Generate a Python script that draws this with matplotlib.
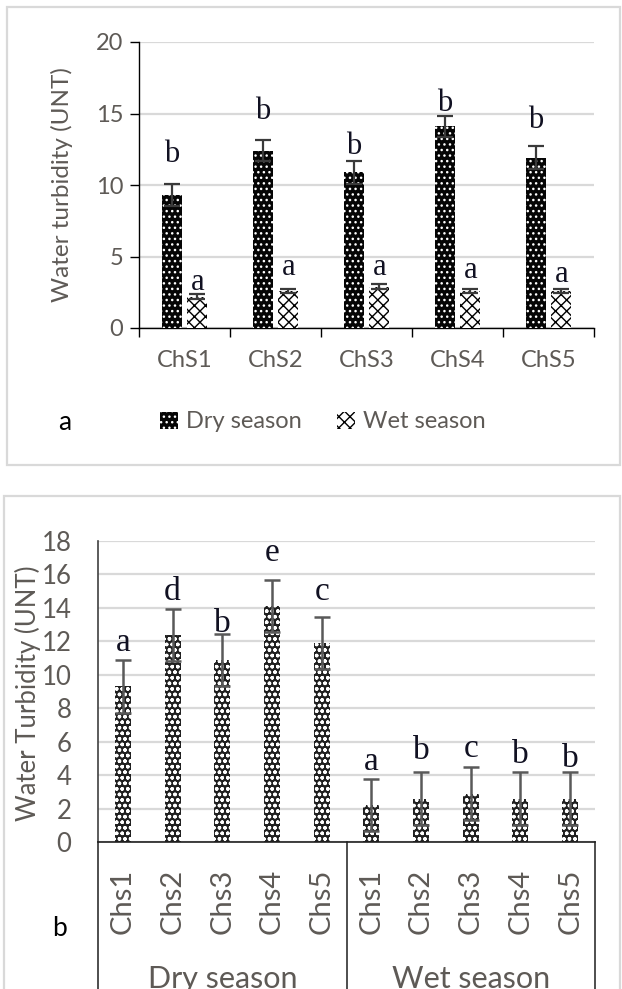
import matplotlib
matplotlib.use("Agg")
import matplotlib.pyplot as plt
from matplotlib.patches import Rectangle, Patch
from matplotlib.lines import Line2D
import numpy as np

# ---- data ----
sites_a = ["ChS1", "ChS2", "ChS3", "ChS4", "ChS5"]
sites_b = ["Chs1", "Chs2", "Chs3", "Chs4", "Chs5"]
seasons = ["Dry season", "Wet season"]

dry_mean = [9.3, 12.4, 10.9, 14.1, 11.9]
wet_mean = [2.2, 2.6, 2.9, 2.6, 2.6]

dry_err_a = [0.8, 0.75, 0.8, 0.75, 0.8]
wet_err_a = [0.15, 0.15, 0.15, 0.15, 0.15]
dry_err_b = [1.56, 1.56, 1.56, 1.56, 1.56]
wet_err_b = [1.56, 1.56, 1.56, 1.56, 1.56]

dry_letters_a = ["b", "b", "b", "b", "b"]
wet_letters_a = ["a", "a", "a", "a", "a"]
dry_letters_b = ["a", "d", "b", "e", "c"]
wet_letters_b = ["a", "b", "c", "b", "b"]

# gap between error cap and letter baseline (data units)
dry_gap_a = [1.5, 1.45, 0.5, 0.35, 1.3]
wet_gap_a = [0.3, 0.95, 0.65, 0.75, 0.45]
dry_gap_b = [0.57, 0.49, 0.1, 1.12, 0.99]
wet_gap_b = [0.55, 0.79, 0.64, 0.54, 0.34]

# ---- style ----
W, H = 622, 989
SANS = ["Lato", "DejaVu Sans"]
SERIF = ["Liberation Serif", "DejaVu Serif"]
TXT = "#5e5a56"
GRID = "#d9d9d9"
plt.rcParams["font.family"] = SANS
plt.rcParams["hatch.linewidth"] = 1.0

DRY_STYLE = dict(facecolor="#050505", edgecolor="white", hatch="...", linewidth=0)
WET_STYLE = dict(facecolor="white", edgecolor="black", hatch="xxx", linewidth=0)
B_STYLE = dict(facecolor="#202020", edgecolor="white", hatch="ooo", linewidth=0)

fig = plt.figure(figsize=(W / 100, H / 100), dpi=100)


def fx(px):
    return px / W


def fy(py):
    return 1 - py / H


# panel frames
fig.add_artist(Rectangle((fx(7), fy(465)), fx(613), (465 - 7) / H,
                         transform=fig.transFigure, fill=False,
                         edgecolor=GRID, lw=1.6))
fig.add_artist(Rectangle((fx(4), fy(1000)), fx(616), (1000 - 496) / H,
                         transform=fig.transFigure, fill=False,
                         edgecolor=GRID, lw=1.6, clip_on=False))

# ================= panel a =================
axa = fig.add_axes([fx(139), fy(328), (594 - 139) / W, (328 - 42) / H])
x = np.arange(len(sites_a))
bw = 0.225
off = 0.14
axa.bar(x - off, dry_mean, bw, zorder=3, **DRY_STYLE)
axa.bar(x + off, wet_mean, bw, zorder=3, **WET_STYLE)
axa.errorbar(x - off, dry_mean, yerr=dry_err_a, fmt="none", ecolor="#3a3a3a",
             elinewidth=1.6, capsize=5.6, capthick=1.6, zorder=4)
axa.errorbar(x + off, wet_mean, yerr=wet_err_a, fmt="none", ecolor="#3a3a3a",
             elinewidth=1.6, capsize=5.6, capthick=1.6, zorder=4)
for i in range(len(sites_a)):
    axa.text(x[i] - off, dry_mean[i] + dry_err_a[i] + dry_gap_a[i],
             dry_letters_a[i], ha="center", va="baseline", fontsize=22,
             family=SERIF, color="#111122", zorder=5)
    axa.text(x[i] + off, wet_mean[i] + wet_err_a[i] + wet_gap_a[i],
             wet_letters_a[i], ha="center", va="baseline", fontsize=22,
             family=SERIF, color="#111122", zorder=5)

axa.set_xlim(-0.5, len(sites_a) - 0.5)
axa.set_ylim(0, 20)
axa.set_yticks([0, 5, 10, 15, 20])
axa.yaxis.grid(True, color=GRID, lw=1.6, zorder=0)
axa.set_axisbelow(True)
axa.set_xticks(x)
axa.set_xticklabels(sites_a)
axa.set_xticks(np.arange(len(sites_a) + 1) - 0.5, minor=True)
axa.tick_params(axis="x", which="major", length=0, pad=16, labelsize=17,
                labelcolor=TXT)
axa.tick_params(axis="x", which="minor", length=6.5, width=1.0, color="black")
axa.tick_params(axis="y", length=6.5, width=1.0, pad=5, labelsize=17,
                labelcolor=TXT, color="black")
for s in ["top", "right"]:
    axa.spines[s].set_visible(False)
for s in ["left", "bottom"]:
    axa.spines[s].set_color("black")
    axa.spines[s].set_linewidth(1.0)
axa.set_ylabel("Water turbidity (UNT)", fontsize=17.5, color=TXT)
axa.yaxis.set_label_coords((62 - 139) / 455, 0.5)
axa.yaxis.label.set_verticalalignment("center")

handles = [Patch(**DRY_STYLE), Patch(**WET_STYLE)]
leg = fig.legend(handles, seasons, loc="center left",
                 bbox_to_anchor=(fx(160), fy(422)), ncol=2, frameon=False,
                 handlelength=0.75, handleheight=0.75, handletextpad=0.35,
                 columnspacing=1.5, borderpad=0, borderaxespad=0,
                 fontsize=17)
for t in leg.get_texts():
    t.set_color(TXT)

fig.text(fx(65), fy(422), "a", ha="center", va="center", fontsize=19,
         color="black")

# ================= panel b =================
axb = fig.add_axes([fx(98), fy(842), (595 - 98) / W, (842 - 541) / H])
n = len(sites_b)
xb = np.arange(2 * n)
vals_b = dry_mean + wet_mean
errs_b = dry_err_b + wet_err_b
letters_b = dry_letters_b + wet_letters_b
gaps_b = dry_gap_b + wet_gap_b
axb.bar(xb, vals_b, 0.32, zorder=3, **B_STYLE)
axb.errorbar(xb, vals_b, yerr=errs_b, fmt="none", ecolor="#595959",
             elinewidth=1.8, capsize=5.8, capthick=1.8, zorder=4)
for i in range(2 * n):
    axb.text(xb[i], vals_b[i] + errs_b[i] + gaps_b[i], letters_b[i],
             ha="center", va="baseline", fontsize=24, family=SERIF,
             color="#111122", zorder=5)

axb.set_xlim(-0.5, 2 * n - 0.5)
axb.set_ylim(0, 18)
axb.set_yticks(np.arange(0, 19, 2))
axb.yaxis.grid(True, color=GRID, lw=1.6, zorder=0)
axb.set_axisbelow(True)
axb.set_xticks(xb)
axb.set_xticklabels(sites_b + sites_b, rotation=90)
axb.tick_params(axis="x", length=0, pad=19, labelsize=21, labelcolor=TXT)
axb.tick_params(axis="y", length=0, pad=19, labelsize=18.5, labelcolor=TXT)
for s in ["top", "right"]:
    axb.spines[s].set_visible(False)
axb.spines["left"].set_color("#404040")
axb.spines["left"].set_linewidth(1.2)
axb.spines["bottom"].set_color("#202020")
axb.spines["bottom"].set_linewidth(1.2)
axb.set_ylabel("Water Turbidity (UNT)", fontsize=18.5, color=TXT)
axb.yaxis.set_label_coords((28 - 98) / 497, 0.495)
axb.yaxis.label.set_verticalalignment("center")

# category table below the axis
for xa in [0.0, 0.5, 1.0]:
    axb.add_line(Line2D([xa, xa], [0, -0.6], transform=axb.transAxes,
                        color="#303030", lw=1.2, clip_on=False))
for g, name in enumerate(seasons):
    axb.text((g + 0.5) / 2, (842 - 988) / 301, name, transform=axb.transAxes,
             ha="center", va="baseline", fontsize=22, color=TXT)

fig.text(fx(59), fy(928), "b", ha="center", va="center", fontsize=19,
         color="black")

fig.savefig("out.png", dpi=100)
